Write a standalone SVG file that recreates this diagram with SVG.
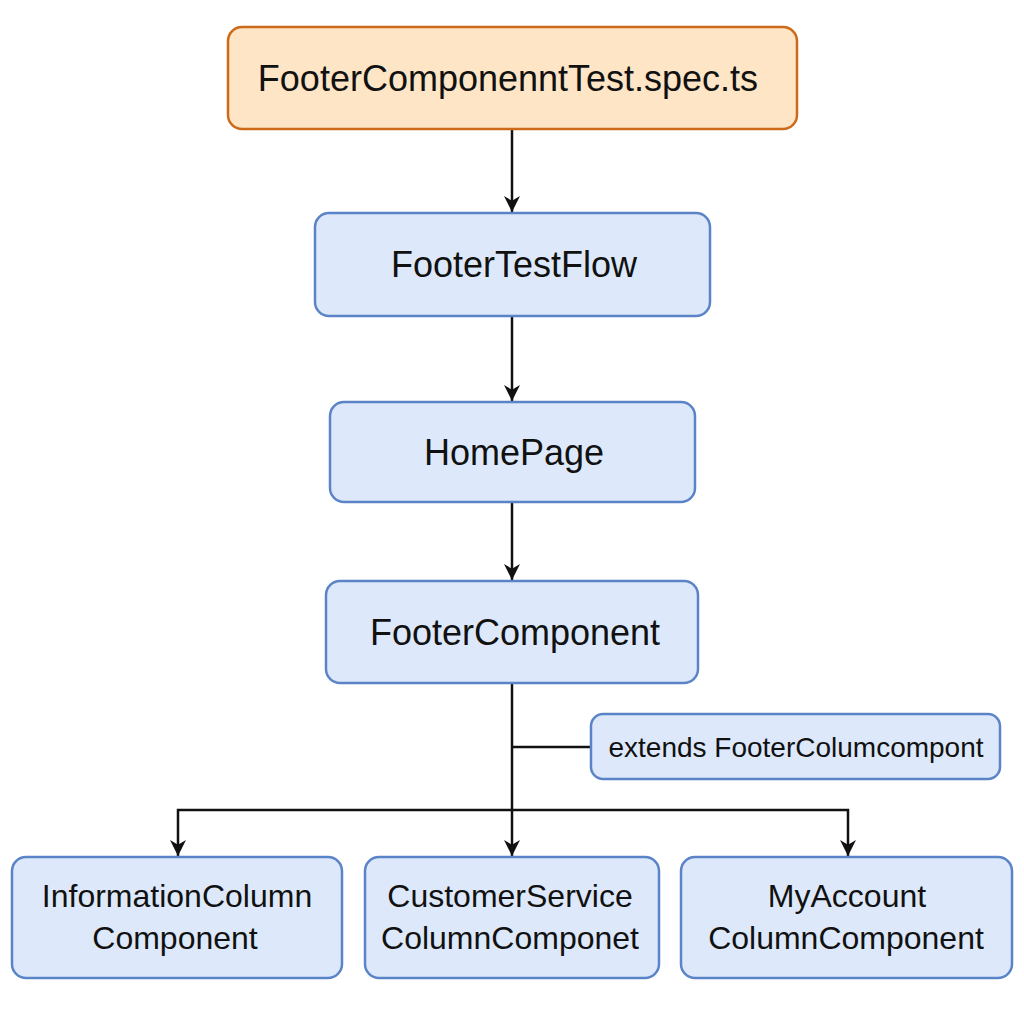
<svg xmlns="http://www.w3.org/2000/svg" width="1024" height="1024" viewBox="0 0 1024 1024">
<style>
.box{fill:#dde9fb;stroke:#5b84c8;stroke-width:2.5}
.top{fill:#fde5c6;stroke:#cc6a1a;stroke-width:2.5}
text{font-family:"Liberation Sans",Arial,sans-serif;fill:#111;text-anchor:middle;dominant-baseline:central}
.t36{font-size:36px}
.t32{font-size:32px}
.t28{font-size:28px}
.ln{fill:none;stroke:#111;stroke-width:2.5}
</style>
<defs>
<marker id="ah" viewBox="0 0 10 10" refX="10" refY="5" markerWidth="16" markerHeight="16" markerUnits="userSpaceOnUse" orient="auto">
<path d="M0,0 L10,5 L0,10 L3,5 Z" fill="#111"/>
</marker>
</defs>
<g id="connectors">
<path class="ln" d="M512,129 V212" marker-end="url(#ah)"/>
<path class="ln" d="M512,316 V401" marker-end="url(#ah)"/>
<path class="ln" d="M512,502 V580" marker-end="url(#ah)"/>
<path class="ln" d="M512,683 V856" marker-end="url(#ah)"/>
<path class="ln" d="M512,747 H591"/>
<path class="ln" d="M512,810 H848 V856" marker-end="url(#ah)"/>
<path class="ln" d="M512,810 H178 V856" marker-end="url(#ah)"/>
</g>
<g id="spec">
<rect class="top" x="228" y="27" width="569" height="102" rx="14"/>
<text class="t36" x="508" y="78">FooterComponenntTest.spec.ts</text>
</g>
<g id="flow">
<rect class="box" x="315" y="213" width="395" height="103" rx="14"/>
<text class="t36" x="514" y="264">FooterTestFlow</text>
</g>
<g id="home">
<rect class="box" x="330" y="402" width="365" height="100" rx="14"/>
<text class="t36" x="514" y="452">HomePage</text>
</g>
<g id="footer">
<rect class="box" x="326" y="581" width="372" height="102" rx="14"/>
<text class="t36" x="515" y="632">FooterComponent</text>
</g>
<g id="extends">
<rect class="box" x="591" y="714" width="409" height="65" rx="12"/>
<text class="t28" x="796" y="747">extends FooterColumcompont</text>
</g>
<g id="info">
<rect class="box" x="12" y="857" width="330" height="121" rx="14"/>
<text class="t32" x="177" y="896">InformationColumn</text>
<text class="t32" x="175" y="938">Component</text>
</g>
<g id="customer">
<rect class="box" x="365" y="857" width="294" height="121" rx="14"/>
<text class="t32" x="510" y="896">CustomerService</text>
<text class="t32" x="510" y="938">ColumnComponet</text>
</g>
<g id="account">
<rect class="box" x="681" y="857" width="331" height="121" rx="14"/>
<text class="t32" x="847" y="896">MyAccount</text>
<text class="t32" x="846" y="938">ColumnComponent</text>
</g>
</svg>
